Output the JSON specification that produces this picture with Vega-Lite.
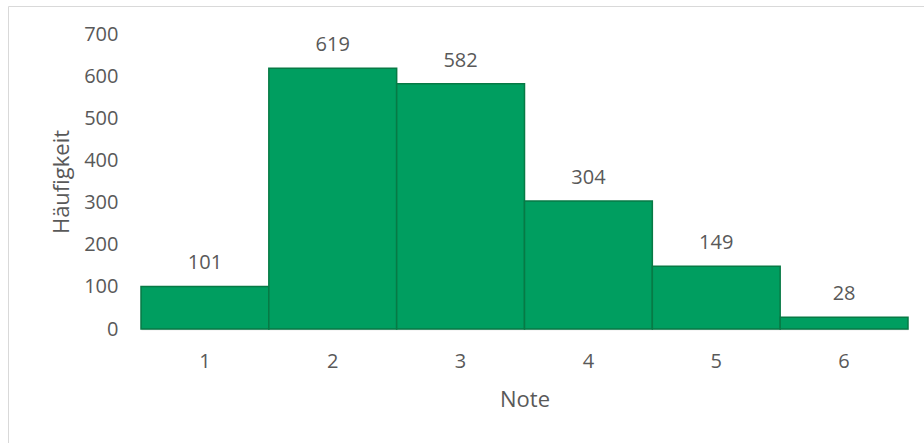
{
  "$schema": "https://vega.github.io/schema/vega-lite/v6.json",
  "width": 920,
  "height": 440,
  "autosize": {"type": "none"},
  "padding": {"left": 8, "top": 6, "right": 0, "bottom": 0},
  "background": "white",
  "config": {
    "view": {"stroke": "#d9d9d9", "strokeWidth": 1},
    "font": "Open Sans"
  },
  "data": {
    "values": [
      {"Note": "1", "Haeufigkeit": 101},
      {"Note": "2", "Haeufigkeit": 619},
      {"Note": "3", "Haeufigkeit": 582},
      {"Note": "4", "Haeufigkeit": 304},
      {"Note": "5", "Haeufigkeit": 149},
      {"Note": "6", "Haeufigkeit": 28}
    ]
  },
  "encoding": {
    "x": {
      "field": "Note",
      "type": "ordinal",
      "scale": {"range": [133, 900], "paddingInner": 0, "paddingOuter": 0},
      "axis": {
        "title": "Note",
        "labelAngle": 0,
        "offset": -117,
        "domainColor": "#d9d9d9",
        "domainWidth": 1.5,
        "ticks": false,
        "tickSize": 0,
        "labelPadding": 22,
        "labelFontSize": 20,
        "labelColor": "#595959",
        "titleFontSize": 22,
        "titleFontWeight": "normal",
        "titleColor": "#595959",
        "titlePadding": 18
      }
    },
    "y": {
      "field": "Haeufigkeit",
      "type": "quantitative",
      "scale": {"domain": [0, 700], "range": [323, 28], "nice": false},
      "axis": {
        "title": "Häufigkeit",
        "offset": -133,
        "domain": false,
        "ticks": false,
        "tickSize": 0,
        "grid": false,
        "values": [0, 100, 200, 300, 400, 500, 600, 700],
        "labelPadding": 23,
        "labelFontSize": 20,
        "labelColor": "#595959",
        "titleFontSize": 22,
        "titleFontWeight": "normal",
        "titleColor": "#595959",
        "titlePadding": 10
      }
    }
  },
  "layer": [
    {
      "mark": {"type": "bar", "fill": "#009E60", "stroke": "#077A45", "strokeWidth": 1.5}
    },
    {
      "mark": {"type": "text", "baseline": "alphabetic", "dy": -17, "fontSize": 20, "color": "#595959"},
      "encoding": {"text": {"field": "Haeufigkeit", "type": "quantitative"}}
    }
  ]
}
